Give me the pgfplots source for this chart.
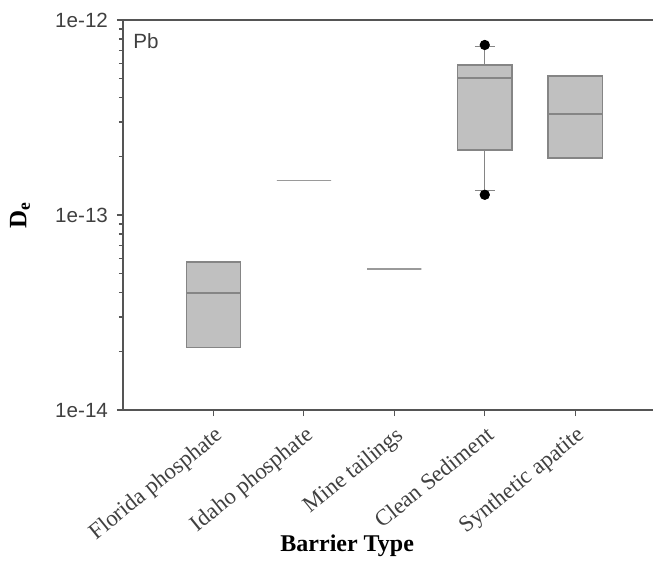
\documentclass[border=0pt]{standalone}
\usepackage{fontspec}
\setmainfont{Liberation Serif}
\setsansfont{Liberation Sans}
\usepackage{pgfplots}
\pgfplotsset{compat=1.18}
\usepgfplotslibrary{statistics}
\definecolor{boxfill}{HTML}{C0C0C0}
\definecolor{boxedge}{HTML}{858585}
\definecolor{axisgray}{HTML}{555555}
\definecolor{flatline}{HTML}{9A9A9A}
\begin{document}
\begin{tikzpicture}
\begin{axis}[
  scale only axis, width=265pt, height=195pt,
  xmin=0, xmax=5.86,
  ymode=log, ymin=1e-14, ymax=1e-12,
  axis x line=box, axis y line=left,
  axis line style={-, axisgray, line width=1pt},
  xtick={1,2,3,4,5},
  xticklabels={Florida phosphate, Idaho phosphate, Mine tailings, Clean Sediment, Synthetic apatite},
  xtick pos=left,
  ytick={1e-14,1e-13,1e-12},
  yticklabels={1e-14,1e-13,1e-12},
  tick align=outside,
  major tick length=3pt, minor tick length=2pt,
  tick style={axisgray, line width=0.6pt},
  x tick label style={font=\fontsize{11.4}{13}\selectfont, rotate=39, anchor=north east, inner sep=1pt, text=black!75, xshift=-1.6pt, yshift=-2.5pt},
  y tick label style={font=\sffamily\fontsize{10.3}{12}\selectfont, text=black!75, xshift=-1pt},
  xlabel={\textbf{Barrier Type}},
  xlabel style={font=\fontsize{12}{14}\selectfont, at={(axis description cs:0.423,0)}, anchor=north, yshift=-59pt},
  ylabel={\textbf{D\textsubscript{e}}},
  ylabel style={font=\fontsize{12.5}{14}\selectfont, at={([xshift=-51.5pt]axis description cs:0,0.5)}, anchor=center},
  boxplot/draw direction=y,
  boxplot/box extend=0.6,
  boxplot/whisker extend=0.22,
  clip=false,
]
% Florida phosphate
\addplot[draw=boxedge, fill=boxfill, line width=0.7pt,
  boxplot prepared={draw position=1, lower whisker=2.10e-14, lower quartile=2.10e-14,
    median=3.98e-14, upper quartile=5.74e-14, upper whisker=5.74e-14}] coordinates {};
% Idaho phosphate
\addplot[draw=flatline, line width=0.7pt,
  boxplot prepared={draw position=2, lower whisker=1.5e-13, lower quartile=1.5e-13,
    median=1.5e-13, upper quartile=1.5e-13, upper whisker=1.5e-13}] coordinates {};
% Mine tailings
\addplot[draw=flatline, line width=0.7pt,
  boxplot prepared={draw position=3, lower whisker=5.28e-14, lower quartile=5.28e-14,
    median=5.28e-14, upper quartile=5.28e-14, upper whisker=5.28e-14}] coordinates {};
% Clean Sediment
\addplot[draw=boxedge, fill=boxfill, line width=0.7pt, mark=*, mark size=2.2pt,
  mark options={fill=black, draw=black},
  boxplot prepared={draw position=4, lower whisker=1.34e-13, lower quartile=2.16e-13,
    median=5.04e-13, upper quartile=5.88e-13, upper whisker=7.3e-13}]
  table[row sep=\\, y index=0] {7.45e-13\\ 1.27e-13\\};
% Synthetic apatite
\addplot[draw=boxedge, fill=boxfill, line width=0.7pt,
  boxplot prepared={draw position=5, lower whisker=1.96e-13, lower quartile=1.96e-13,
    median=3.30e-13, upper quartile=5.16e-13, upper whisker=5.16e-13}] coordinates {};
\node[anchor=north west, font=\sffamily\fontsize{10.3}{12}\selectfont, text=black!75, inner sep=0pt]
  at (rel axis cs:0.019,0.967) {Pb};
% invisible frame giving the picture the reference's extent
\path ([xshift=-61.5pt,yshift=10pt]rel axis cs:0,1) rectangle ([yshift=-76.5pt]rel axis cs:1,0);
\end{axis}
\end{tikzpicture}
\end{document}
